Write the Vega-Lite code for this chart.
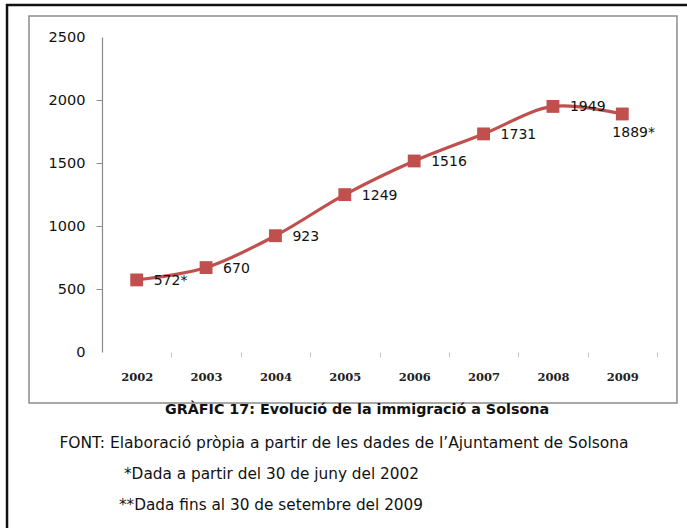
{
  "$schema": "https://vega.github.io/schema/vega-lite/v6.json",
  "width": 555,
  "height": 315,
  "autosize": "none",
  "padding": {"left": 102, "top": 37, "right": 30, "bottom": 176},
  "background": "white",
  "config": {"view": {"stroke": null}},
  "data": {
    "values": [
      {"year": 2002, "value": 572, "label": "572*"},
      {"year": 2003, "value": 670, "label": "670"},
      {"year": 2004, "value": 923, "label": "923"},
      {"year": 2005, "value": 1249, "label": "1249"},
      {"year": 2006, "value": 1516, "label": "1516"},
      {"year": 2007, "value": 1731, "label": "1731"},
      {"year": 2008, "value": 1949, "label": "1949"},
      {"year": 2009, "value": 1889, "label": "1889*"}
    ]
  },
  "layer": [
    {
      "data": {"values": [{"frame": "outer"}]},
      "mark": {"type": "rect", "fill": null, "stroke": "#111111", "strokeWidth": 2.5},
      "encoding": {
        "x": {"datum": 2000.131, "type": "quantitative"},
        "x2": {"datum": 2010.4},
        "y": {"datum": 2754, "type": "quantitative"},
        "y2": {"datum": -1700}
      }
    },
    {
      "data": {"values": [{"frame": "inner"}]},
      "mark": {"type": "rect", "fill": null, "stroke": "#8c8c8c", "strokeWidth": 1.5},
      "encoding": {
        "x": {"datum": 2000.448, "type": "quantitative"},
        "x2": {"datum": 2009.788},
        "y": {"datum": 2666.7, "type": "quantitative"},
        "y2": {"datum": -404.8}
      }
    },
    {
      "mark": {"type": "line", "color": "#C0504D", "strokeWidth": 3.2, "interpolate": "catmull-rom"},
      "encoding": {
        "x": {
          "field": "year",
          "type": "quantitative",
          "scale": {"domain": [2001.5, 2009.5], "nice": false, "zero": false},
          "axis": {
            "title": null,
            "values": [2002, 2003, 2004, 2005, 2006, 2007, 2008, 2009],
            "format": "d",
            "domain": false,
            "grid": false,
            "tickOffset": 34.7,
            "labelOffset": -34.7,
            "tickSize": 5,
            "tickColor": "#c4c4c4",
            "labelPadding": 14,
            "labelBaseline": "top",
            "labelFont": "DejaVu Serif",
            "labelFontWeight": "bold",
            "labelFontSize": 11.5,
            "labelColor": "#222222"
          }
        },
        "y": {
          "field": "value",
          "type": "quantitative",
          "scale": {"domain": [0, 2500], "nice": false},
          "axis": {
            "title": null,
            "values": [0, 500, 1000, 1500, 2000, 2500],
            "format": "d",
            "domainColor": "#8a8a8a",
            "domainWidth": 1.2,
            "tickSize": 6,
            "tickColor": {"condition": {"test": "datum.value > 0 && datum.value < 2500", "value": "#8a8a8a"}, "value": "transparent"},
            "gridColor": {"condition": {"test": "datum.value > 0 && datum.value < 2500", "value": "#8a8a8a"}, "value": "transparent"},
            "gridWidth": 1.2,
            "labelPadding": 11,
            "labelFont": "DejaVu Sans",
            "labelFontSize": 14.5,
            "labelColor": "#111111"
          }
        }
      }
    },
    {
      "mark": {"type": "point", "shape": "square", "filled": true, "size": 165, "color": "#C0504D", "opacity": 1},
      "encoding": {
        "x": {"field": "year", "type": "quantitative"},
        "y": {"field": "value", "type": "quantitative"}
      }
    },
    {
      "transform": [{"filter": "datum.year != 2009"}],
      "mark": {"type": "text", "align": "left", "baseline": "middle", "dx": 17, "dy": 1, "font": "DejaVu Sans", "fontSize": 14, "color": "#111111"},
      "encoding": {
        "x": {"field": "year", "type": "quantitative"},
        "y": {"field": "value", "type": "quantitative"},
        "text": {"field": "label"}
      }
    },
    {
      "transform": [{"filter": "datum.year == 2009"}],
      "mark": {"type": "text", "align": "left", "baseline": "middle", "dx": -10, "dy": 19, "font": "DejaVu Sans", "fontSize": 14, "color": "#111111"},
      "encoding": {
        "x": {"field": "year", "type": "quantitative"},
        "y": {"field": "value", "type": "quantitative"},
        "text": {"field": "label"}
      }
    },
    {
      "data": {"values": [{"caption": "GRÀFIC 17: Evolució de la immigració a Solsona"}]},
      "mark": {"type": "text", "align": "center", "baseline": "middle", "font": "DejaVu Sans", "fontSize": 14.3, "fontWeight": "bold", "color": "#111111"},
      "encoding": {
        "x": {"datum": 2005.176, "type": "quantitative"},
        "y": {"datum": -460, "type": "quantitative"},
        "text": {"field": "caption"}
      }
    },
    {
      "data": {"values": [{"caption": "FONT: Elaboració pròpia a partir de les dades de l’Ajuntament de Solsona"}]},
      "mark": {"type": "text", "align": "center", "baseline": "middle", "font": "DejaVu Sans", "fontSize": 15.5, "color": "#111111"},
      "encoding": {
        "x": {"datum": 2004.988, "type": "quantitative"},
        "y": {"datum": -722, "type": "quantitative"},
        "text": {"field": "caption"}
      }
    },
    {
      "data": {"values": [{"caption": "*Dada a partir del 30 de juny del 2002"}]},
      "mark": {"type": "text", "align": "center", "baseline": "middle", "font": "DejaVu Sans", "fontSize": 15.3, "color": "#111111"},
      "encoding": {
        "x": {"datum": 2003.943, "type": "quantitative"},
        "y": {"datum": -968, "type": "quantitative"},
        "text": {"field": "caption"}
      }
    },
    {
      "data": {"values": [{"caption": "**Dada fins al 30 de setembre del 2009"}]},
      "mark": {"type": "text", "align": "center", "baseline": "middle", "font": "DejaVu Sans", "fontSize": 15.3, "color": "#111111"},
      "encoding": {
        "x": {"datum": 2003.936, "type": "quantitative"},
        "y": {"datum": -1214, "type": "quantitative"},
        "text": {"field": "caption"}
      }
    }
  ]
}
